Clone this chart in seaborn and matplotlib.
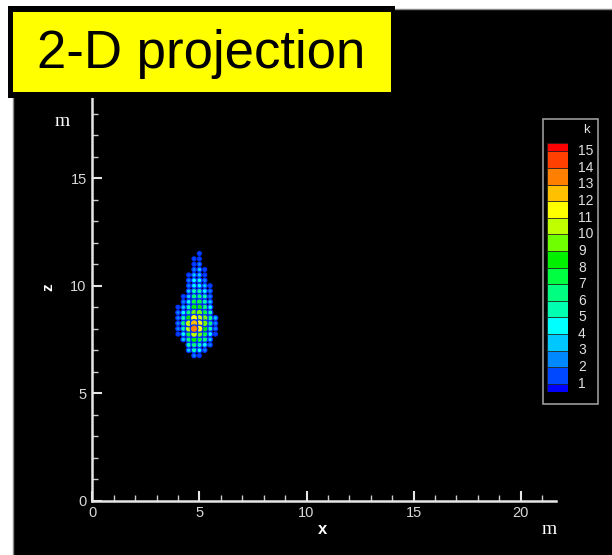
import numpy as np
import pandas as pd
import matplotlib
matplotlib.use("Agg")
import matplotlib.pyplot as plt
from matplotlib.patches import Rectangle
import seaborn as sns

# ---------------- data ----------------
TITLE = "2-D projection"
X_LABEL = "x"
Z_LABEL = "z"
UNIT = "m"
LEGEND_TITLE = "k"
K_LEVELS = list(range(1, 16))
# colour of each contour band, bottom (half band below 1) to top (half band above 15)
BAND_COLORS = ["#0000ff", "#0048ff", "#0088ff", "#00c8ff", "#00ffff", "#00ffb0",
               "#00ff80", "#00ff40", "#00f000", "#70ff00", "#c0ff00", "#ffff00",
               "#ffc000", "#ff8000", "#ff4000", "#ff0000"]
X_TICKS = [0, 5, 10, 15, 20]
Z_TICKS = [0, 5, 10, 15]

# particle grid columns (x, m) and rows (z, m); each row string gives k (hex) per column
COL_X = [4.0, 4.25, 4.5, 4.75, 5.0, 5.25, 5.5, 5.75]
ROW_Z = [11.5, 11.25, 11.0, 10.75, 10.5, 10.25, 10.0, 9.75, 9.5, 9.25,
         9.0, 8.75, 8.5, 8.25, 8.0, 7.75, 7.5, 7.25, 7.0, 6.75]
ROW_K = ["....1...",
         "...11...",
         "...12...",
         "...231..",
         "..1331..",
         "..2442..",
         "..24431.",
         "..35542.",
         ".136652.",
         ".247753.",
         "1358864.",
         "2469975.",
         "258ba963",
         "26acb962",
         "25adb852",
         "147a9741",
         ".368763.",
         "..56542.",
         "..3542..",
         "...21..."]

# ---------------- build table ----------------
xs, zs, ks = [], [], []
for z, row in zip(ROW_Z, ROW_K):
    for x, ch in zip(COL_X, row):
        if ch != ".":
            xs.append(x)
            zs.append(z)
            ks.append(int(ch, 16))
df = pd.DataFrame({"x": xs, "z": zs, "k": ks})
df = df.sort_values("k")
palette = {k: BAND_COLORS[k] for k in sorted(set(ks))}

# ---------------- figure ----------------
W, H = 612, 555
fig = plt.figure(figsize=(W / 100, H / 100), dpi=100)
fig.patch.set_facecolor("white")

def px_rect(x0, y0, x1, y1, **kw):
    return Rectangle((x0 / W, 1 - y1 / H), (x1 - x0) / W, (y1 - y0) / H,
                     transform=fig.transFigure, figure=fig, **kw)

fig.patches.append(px_rect(12.5, 9, 613, 556, facecolor="black",
                           edgecolor="#888888", linewidth=1.0, zorder=-5))

xmax, zmax = 21.63, 20.0
sx = 21.42
ax = fig.add_axes([92.3 / W, (H - 500.7) / H, xmax * sx / W, zmax * 21.5 / H])
ax.set_facecolor("none")
ax.set_zorder(1)

sns.scatterplot(data=df, x="x", y="z", hue="k", palette=palette, size="k",
                sizes=(8, 30), marker="o", edgecolor="#0030ff", linewidth=0.9,
                legend=False, ax=ax, zorder=3)

ax.set_xlim(0, xmax)
ax.set_ylim(0, zmax)
for s in ["top", "right"]:
    ax.spines[s].set_visible(False)
for s in ["left", "bottom"]:
    ax.spines[s].set_color("#e6e6e6")
    ax.spines[s].set_linewidth(1.8)
ax.set_xticks(X_TICKS)
ax.set_yticks(Z_TICKS)
ax.set_xticks(np.arange(0, 22, 1), minor=True)
ax.set_yticks(np.arange(0, 20, 1), minor=True)
ax.tick_params(which="major", direction="in", length=7.2, width=1.5,
               color="#e6e6e6", labelcolor="#d8d8d8", labelsize=10.5, pad=4)
ax.tick_params(which="minor", direction="in", length=4, width=1.0, color="#cccccc")
ax.set_xlabel("")
ax.set_ylabel("")
for lab in ax.get_xticklabels() + ax.get_yticklabels():
    lab.set_family(["Liberation Sans", "DejaVu Sans"])

# axis titles and units
fig.text(323 / W, 1 - 530 / H, X_LABEL, color="white", fontsize=12, fontweight="bold",
         family=["Liberation Sans"], ha="center", va="center")
fig.text(48 / W, 1 - 287 / H, Z_LABEL, color="white", fontsize=11, fontweight="bold",
         family=["Liberation Sans"], ha="center", va="center", rotation=90)
fig.text(62 / W, 1 - 121 / H, UNIT, color="white", fontsize=14,
         family=["Liberation Serif"], ha="center", va="center")
fig.text(549 / W, 1 - 529 / H, UNIT, color="white", fontsize=14,
         family=["Liberation Serif"], ha="center", va="center")

# ---------------- legend (contour key) ----------------
lx0, lx1, ly0, ly1 = 542.7, 598, 119, 404
fig.patches.append(px_rect(lx0, ly0, lx1, ly1, facecolor="black",
                           edgecolor="#9a9a9a", linewidth=1.2, zorder=5))
lax = fig.add_axes([547 / W, 1 - 392 / H, (567.7 - 547) / W, (392 - 143) / H])
lax.set_xlim(0, 1)
lax.set_ylim(0.5, 15.5)
lax.axis("off")
lax.set_zorder(6)
edges = [0.5] + K_LEVELS + [15.5]
for i, c in enumerate(BAND_COLORS):
    lax.add_patch(Rectangle((0, edges[i]), 1, edges[i + 1] - edges[i], facecolor=c,
                            edgecolor="#202020", linewidth=0.5))
for k in K_LEVELS:
    lax.text(1.5, k, str(k), color="#e0e0e0", fontsize=10,
             family=["Liberation Sans"], ha="left", va="center",
             transform=lax.transData, clip_on=False)
fig.text(586 / W, 1 - 130 / H, LEGEND_TITLE, color="#e0e0e0", fontsize=9.5,
         family=["Liberation Sans"], ha="center", va="center", zorder=7)

# ---------------- title box ----------------
fig.patches.append(px_rect(8, 6, 395, 98, facecolor="black", edgecolor="none", zorder=8))
fig.patches.append(px_rect(13, 12, 390.5, 91.5, facecolor="#ffff00", edgecolor="none", zorder=9))
fig.text(201 / W, 1 - 54 / H, TITLE, color="black", fontsize=38,
         family=["Liberation Sans"], ha="center", va="center", zorder=10)

fig.savefig("out.png", dpi=100, facecolor=fig.get_facecolor())
